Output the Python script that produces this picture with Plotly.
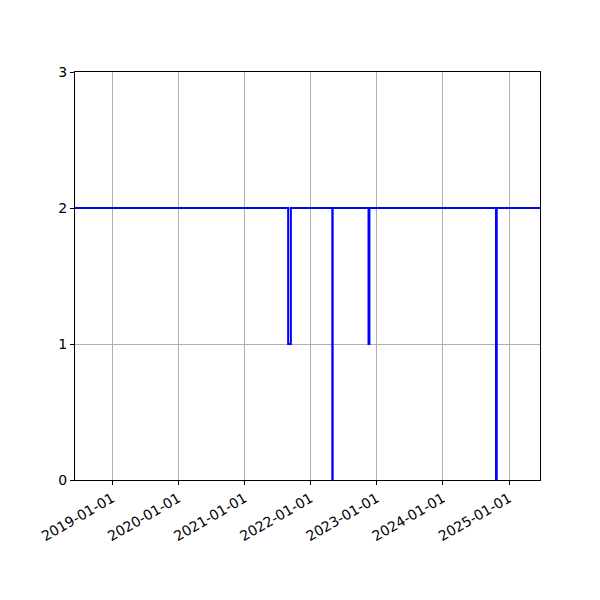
import plotly.graph_objects as go

# step series: value holds until the next date
dates = ["2018-06-10", "2021-08-30", "2021-09-14", "2022-05-01", "2022-05-03",
         "2022-11-17", "2022-11-22", "2024-10-21", "2024-10-25", "2025-06-21"]
values = [2, 1, 2, 0, 2, 1, 2, 0, 2, 2]
tick_dates = ["2019-01-01", "2020-01-01", "2021-01-01", "2022-01-01",
              "2023-01-01", "2024-01-01", "2025-01-01"]

fig = go.Figure()
fig.add_trace(go.Scatter(x=dates, y=values, mode="lines", line_shape="hv",
                         line=dict(color="#0000ff", width=2), showlegend=False))

axis_style = dict(showline=True, linecolor="black", linewidth=1, mirror=True,
                  ticks="outside", ticklen=4, tickcolor="black",
                  showgrid=True, gridcolor="#b0b0b0", gridwidth=1, zeroline=False,
                  tickfont=dict(family="DejaVu Sans", size=14, color="black"))

fig.update_xaxes(type="date", range=["2018-06-10", "2025-06-21"],
                 tickvals=tick_dates, ticktext=tick_dates, tickangle=-30,
                 **axis_style)
fig.update_yaxes(range=[0, 3], tickvals=[0, 1, 2, 3], **axis_style)

fig.update_layout(width=600, height=600, plot_bgcolor="white", paper_bgcolor="white",
                  margin=dict(l=67, r=68, t=64, b=128))
fig.write_html("out.html")
